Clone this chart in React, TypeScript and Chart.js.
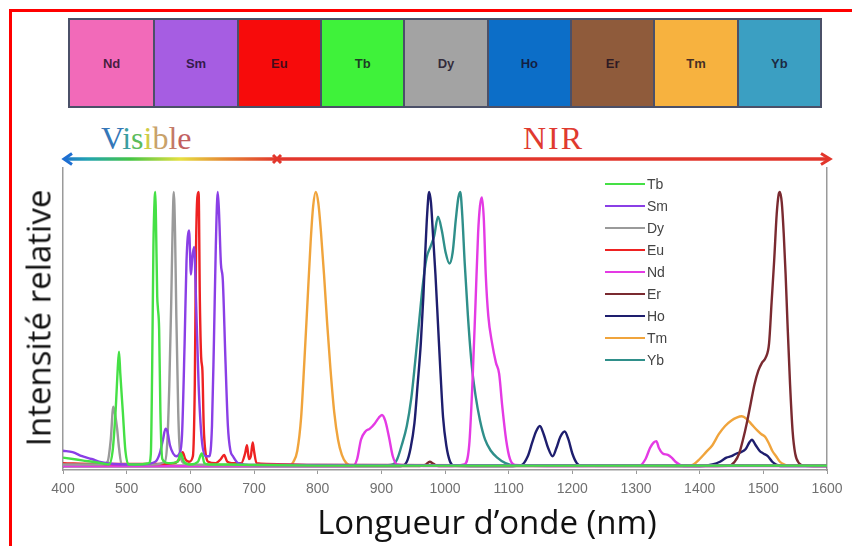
import React, { useEffect, useRef } from "react";
import { Chart, registerables } from "chart.js";

Chart.register(...registerables);

// ---- Top colour band ----
const bandElements = ["Nd", "Sm", "Eu", "Tb", "Dy", "Ho", "Er", "Tm", "Yb"];
const bandColors = ["#f26ab9", "#a65de2", "#f70b0b", "#3ff23a", "#a3a3a3", "#0c6ec8", "#8f5b3b", "#f7b23f", "#3b9fc2"];

// ---- Axis ----
const xMin = 400;
const xMax = 1600;
const xStep = 100;

// ---- Series (legend order) ----
const seriesNames = ["Tb", "Sm", "Dy", "Eu", "Nd", "Er", "Ho", "Tm", "Yb"];
const seriesColors = ["#45e045", "#8a3fe6", "#9a9a9a", "#ee2222", "#e43ae4", "#7a2a30", "#1e1e6e", "#f0a43c", "#2f8f8a"];

const tbX = [400, 430, 460, 472, 478, 483, 486, 488, 490, 494, 498, 503, 520, 535, 538, 540, 542, 544, 545, 546, 548, 549, 551, 553, 556, 565, 580, 585, 590, 600, 612, 618, 622, 630, 660, 700, 800, 1000, 1600];
const tbY = [0.035, 0.025, 0.015, 0.01, 0.06, 0.22, 0.36, 0.42, 0.34, 0.2, 0.06, 0.01, 0.01, 0.015, 0.05, 0.35, 0.8, 0.98, 1.0, 0.9, 0.62, 0.58, 0.5, 0.2, 0.03, 0.015, 0.02, 0.05, 0.02, 0.01, 0.02, 0.05, 0.015, 0.01, 0.01, 0.008, 0.006, 0.006, 0.006];

const smX = [400, 415, 430, 445, 460, 480, 520, 545, 552, 557, 561, 564, 568, 573, 578, 583, 587, 591, 594, 598, 601, 603, 606, 609, 613, 618, 624, 630, 634, 637, 640, 643, 645, 648, 651, 655, 659, 663, 667, 675, 700, 1600];
const smY = [0.06, 0.055, 0.04, 0.03, 0.018, 0.012, 0.01, 0.02, 0.05, 0.1, 0.14, 0.13, 0.08, 0.05, 0.04, 0.05, 0.12, 0.45, 0.75, 0.86, 0.7, 0.76, 0.8, 0.6, 0.3, 0.1, 0.04, 0.04, 0.15, 0.45, 0.8, 1.0, 0.93, 0.74, 0.68, 0.4, 0.15, 0.06, 0.04, 0.015, 0.008, 0.006];

const dyX = [400, 460, 470, 475, 479, 482, 485, 488, 492, 500, 540, 560, 564, 567, 570, 572, 574, 576, 578, 581, 584, 590, 600, 700, 1600];
const dyY = [0.01, 0.01, 0.02, 0.1, 0.22, 0.19, 0.14, 0.07, 0.01, 0.01, 0.01, 0.02, 0.1, 0.3, 0.6, 0.85, 1.0, 0.85, 0.55, 0.2, 0.05, 0.015, 0.01, 0.008, 0.006];

const euX = [400, 450, 500, 550, 575, 583, 588, 592, 598, 604, 607, 609, 611, 613, 615, 617, 619, 621, 624, 628, 640, 648, 653, 658, 665, 680, 686, 689, 692, 695, 698, 700, 704, 720, 800, 1600];
const euY = [0.015, 0.012, 0.012, 0.012, 0.015, 0.03, 0.055, 0.03, 0.02, 0.04, 0.3, 0.8, 0.98, 1.0, 0.6, 0.4, 0.35, 0.15, 0.05, 0.02, 0.015, 0.03, 0.045, 0.02, 0.015, 0.015, 0.05, 0.08, 0.03, 0.04, 0.09, 0.06, 0.015, 0.012, 0.008, 0.006];

const ndX = [400, 700, 855, 862, 868, 875, 882, 890, 896, 901, 906, 912, 918, 925, 1000, 1030, 1038, 1043, 1048, 1052, 1055, 1058, 1061, 1064, 1068, 1074, 1080, 1085, 1090, 1096, 1102, 1110, 1200, 1305, 1315, 1322, 1328, 1332, 1336, 1342, 1350, 1356, 1362, 1370, 1380, 1600];
const ndY = [0.004, 0.004, 0.004, 0.03, 0.1, 0.13, 0.14, 0.16, 0.18, 0.19, 0.17, 0.11, 0.04, 0.01, 0.004, 0.01, 0.08, 0.3, 0.6, 0.85, 0.95, 0.98, 0.9, 0.7, 0.55, 0.45, 0.38, 0.34, 0.22, 0.1, 0.03, 0.008, 0.004, 0.005, 0.03, 0.07, 0.09, 0.095, 0.07, 0.05, 0.045, 0.035, 0.02, 0.008, 0.004, 0.004];

const erX = [400, 960, 970, 976, 982, 990, 1400, 1445, 1455, 1462, 1468, 1474, 1480, 1486, 1492, 1498, 1504, 1509, 1513, 1517, 1521, 1524, 1526, 1529, 1532, 1535, 1538, 1542, 1546, 1550, 1556, 1565, 1600];
const erY = [0.004, 0.004, 0.01, 0.02, 0.012, 0.004, 0.004, 0.005, 0.02, 0.05, 0.1, 0.16, 0.23, 0.3, 0.35, 0.38, 0.4, 0.45, 0.6, 0.75, 0.92, 0.99, 1.0, 0.96, 0.85, 0.7, 0.52, 0.3, 0.13, 0.05, 0.015, 0.005, 0.004];

const hoX = [400, 930, 940, 946, 952, 957, 962, 966, 969, 972, 975, 978, 981, 985, 989, 993, 997, 1002, 1008, 1015, 1100, 1120, 1130, 1137, 1143, 1149, 1155, 1162, 1169, 1175, 1181, 1188, 1194, 1200, 1207, 1215, 1400, 1420, 1432, 1442, 1450, 1458, 1465, 1472, 1478, 1482, 1488, 1494, 1500, 1507, 1514, 1520, 1527, 1600];
const hoY = [0.004, 0.004, 0.02, 0.07, 0.16, 0.3, 0.45, 0.62, 0.78, 0.92, 1.0, 0.96, 0.85, 0.7, 0.52, 0.34, 0.18, 0.08, 0.02, 0.005, 0.004, 0.008, 0.04, 0.09, 0.13, 0.15, 0.12, 0.07, 0.04, 0.07, 0.11, 0.13, 0.1, 0.05, 0.015, 0.005, 0.004, 0.01, 0.02, 0.035, 0.04, 0.05, 0.055, 0.065, 0.09, 0.1, 0.08, 0.06, 0.05, 0.04, 0.02, 0.01, 0.004, 0.004];

const tmX = [400, 700, 755, 762, 768, 774, 779, 784, 789, 793, 797, 801, 805, 810, 815, 820, 826, 832, 838, 845, 855, 1000, 1380, 1390, 1400, 1410, 1420, 1430, 1440, 1450, 1458, 1466, 1474, 1482, 1490, 1497, 1503, 1508, 1514, 1520, 1526, 1533, 1542, 1600];
const tmY = [0.005, 0.005, 0.006, 0.02, 0.06, 0.18, 0.38, 0.6, 0.82, 0.95, 1.0, 0.96, 0.86, 0.7, 0.52, 0.36, 0.2, 0.1, 0.045, 0.015, 0.005, 0.005, 0.005, 0.01, 0.03, 0.055, 0.08, 0.12, 0.15, 0.17, 0.18, 0.185, 0.175, 0.155, 0.135, 0.12, 0.11, 0.09, 0.06, 0.04, 0.02, 0.01, 0.005, 0.005];

const ybX = [400, 900, 918, 925, 932, 940, 947, 953, 959, 965, 971, 977, 983, 989, 995, 1001, 1007, 1012, 1017, 1021, 1024, 1027, 1031, 1036, 1042, 1048, 1055, 1063, 1072, 1082, 1095, 1110, 1600];
const ybY = [0.006, 0.006, 0.01, 0.03, 0.08, 0.15, 0.25, 0.38, 0.52, 0.66, 0.76, 0.8, 0.84, 0.91, 0.86, 0.78, 0.74, 0.78, 0.9, 0.98, 1.0, 0.92, 0.74, 0.55, 0.37, 0.26, 0.17, 0.1, 0.06, 0.035, 0.015, 0.006, 0.006];

const seriesX = [tbX, smX, dyX, euX, ndX, erX, hoX, tmX, ybX];
const seriesY = [tbY, smY, dyY, euY, ndY, erY, hoY, tmY, ybY];

const W = 852;
const H = 546;
const AREA = { left: 63, right: 827, top: 168, bottom: 470 };

const visibleLetters = ["V", "i", "s", "i", "b", "l", "e"];
const visibleColors = ["#3577b8", "#3a9ea0", "#5cbc5c", "#cfcc45", "#c9a26a", "#c47a68", "#c26060"];

function SpectrumChart() {
  const ref = useRef<HTMLCanvasElement | null>(null);
  useEffect(() => {
    if (!ref.current) return;
    const datasets = seriesNames.map((name, i) => ({
      label: name,
      data: seriesX[i].map((x, k) => ({ x, y: seriesY[i][k] })),
      borderColor: seriesColors[i],
      backgroundColor: seriesColors[i],
      borderWidth: 2.4,
      pointRadius: 0,
      cubicInterpolationMode: "monotone" as const,
      fill: false,
    }));
    const chart = new Chart(ref.current, {
      type: "line",
      data: { datasets },
      options: {
        animation: false,
        responsive: false,
        devicePixelRatio: 1,
        events: [],
        layout: {
          padding: { left: AREA.left, right: W - AREA.right, top: AREA.top, bottom: H - AREA.bottom - 30 },
        },
        plugins: { legend: { display: false }, tooltip: { enabled: false }, title: { display: false } },
        scales: {
          x: {
            type: "linear",
            min: xMin,
            max: xMax,
            afterFit: (s: any) => { s.height = 30; },
            ticks: {
              stepSize: xStep,
              autoSkip: false,
              maxRotation: 0,
              padding: 7,
              color: "#707070",
              font: { family: "'Liberation Sans', Arial, sans-serif", size: 14 },
              callback: (v: any) => String(v),
            },
            grid: { display: true, drawOnChartArea: false, drawTicks: true, tickLength: 4, color: "#9a9a9a" },
            border: { display: true, color: "#9a9a9a", width: 1.5 },
          },
          y: {
            type: "linear",
            min: -0.01,
            max: 1.087,
            position: "left",
            afterFit: (s: any) => { s.width = 0; },
            ticks: { display: false },
            grid: { display: false },
            border: { display: true, color: "#9a9a9a", width: 1.5 },
          },
          y2: {
            type: "linear",
            min: 0,
            max: 1,
            position: "right",
            afterFit: (s: any) => { s.width = 0; },
            ticks: { display: false },
            grid: { display: false },
            border: { display: true, color: "#9a9a9a", width: 1.5 },
          },
        },
      },
    });
    return () => chart.destroy();
  }, []);
  return <canvas ref={ref} width={W} height={H} style={{ position: "absolute", left: 0, top: 0, width: W, height: H }} />;
}

export default function App() {
  const cellW = 754 / bandElements.length;
  return (
    <div style={{ position: "absolute", left: 0, top: 0, width: W, height: H, overflow: "hidden", background: "#ffffff" }}>
      {/* red frame */}
      <div style={{ position: "absolute", left: 9, top: 9, width: 900, height: 600, border: "3px solid #ff0000" }} />

      {/* colour band */}
      <div
        style={{
          position: "absolute", left: 68, top: 18, width: 754, height: 90,
          border: "2px solid #4b5068", boxSizing: "border-box", display: "flex", background: "#4b5068",
        }}
      >
        {bandElements.map((el, i) => (
          <div
            key={el}
            style={{
              width: cellW, height: "100%", background: bandColors[i], boxSizing: "border-box",
              borderLeft: i === 0 ? "none" : "2px solid #4b5068",
              display: "flex", alignItems: "center", justifyContent: "center",
              fontFamily: "'Liberation Sans Narrow', 'Liberation Sans', Arial, sans-serif", fontWeight: 700, fontSize: 13,
              color: "rgba(20,10,30,0.8)",
            }}
          >
            {el}
          </div>
        ))}
      </div>

      {/* Visible / NIR labels */}
      <div style={{ position: "absolute", left: 101, top: 122, fontFamily: "'Liberation Serif', 'DejaVu Serif', serif", fontSize: 32, lineHeight: "32px", whiteSpace: "nowrap" }}>
        {visibleLetters.map((ch, i) => (
          <span key={i} style={{ color: visibleColors[i] }}>{ch}</span>
        ))}
      </div>
      <div style={{ position: "absolute", left: 523, top: 122, fontFamily: "'Liberation Serif', 'DejaVu Serif', serif", fontSize: 32, lineHeight: "32px", color: "#e03a30", letterSpacing: 2 }}>
        NIR
      </div>

      {/* range arrow */}
      <svg width={W} height={20} style={{ position: "absolute", left: 0, top: 150 }}>
        <defs>
          <linearGradient id="visGrad" gradientUnits="userSpaceOnUse" x1={62} y1={0} x2={277} y2={0}>
            <stop offset="0" stopColor="#1e6fd2" />
            <stop offset="0.12" stopColor="#22a3b0" />
            <stop offset="0.32" stopColor="#45c545" />
            <stop offset="0.55" stopColor="#e6e040" />
            <stop offset="0.75" stopColor="#e58a35" />
            <stop offset="1" stopColor="#e2362c" />
          </linearGradient>
        </defs>
        <line x1={64} y1={9} x2={277} y2={9} stroke="url(#visGrad)" strokeWidth={3.5} />
        <polyline points="72,3.5 64,9 72,14.5" fill="none" stroke="#1e6fd2" strokeWidth={3} />
        <line x1={277} y1={9} x2={829} y2={9} stroke="#e2362c" strokeWidth={3.5} />
        <polyline points="821,3.5 830,9 821,14.5" fill="none" stroke="#e2362c" strokeWidth={3} />
        <line x1={273} y1={5} x2={281} y2={13} stroke="#e2362c" strokeWidth={3} />
        <line x1={281} y1={5} x2={273} y2={13} stroke="#e2362c" strokeWidth={3} />
      </svg>

      <SpectrumChart />

      {/* legend */}
      <div style={{ position: "absolute", left: 605, top: 173 }}>
        {seriesNames.map((name, i) => (
          <div key={name} style={{ display: "flex", alignItems: "center", height: 22 }}>
            <div style={{ width: 40, height: 2.5, background: seriesColors[i] }} />
            <div style={{ marginLeft: 2, fontFamily: "'Liberation Sans', Arial, sans-serif", fontSize: 14, color: "#444" }}>{name}</div>
          </div>
        ))}
      </div>

      {/* axis titles */}
      <div style={{ position: "absolute", left: 38, top: 318, width: 0, height: 0 }}>
        <div style={{ position: "absolute", left: 0, top: 0, transform: "translate(-50%, -50%) rotate(-90deg)", whiteSpace: "nowrap", fontFamily: "'Open Sans', sans-serif", fontSize: 33, color: "#111" }}>
          Intensité relative
        </div>
      </div>
      <div style={{ position: "absolute", left: 487, top: 521, width: 0, height: 0 }}>
        <div style={{ position: "absolute", left: 0, top: 0, transform: "translate(-50%, -50%)", whiteSpace: "nowrap", fontFamily: "'Open Sans', sans-serif", fontSize: 33, color: "#111" }}>
          Longueur d’onde (nm)
        </div>
      </div>
    </div>
  );
}
